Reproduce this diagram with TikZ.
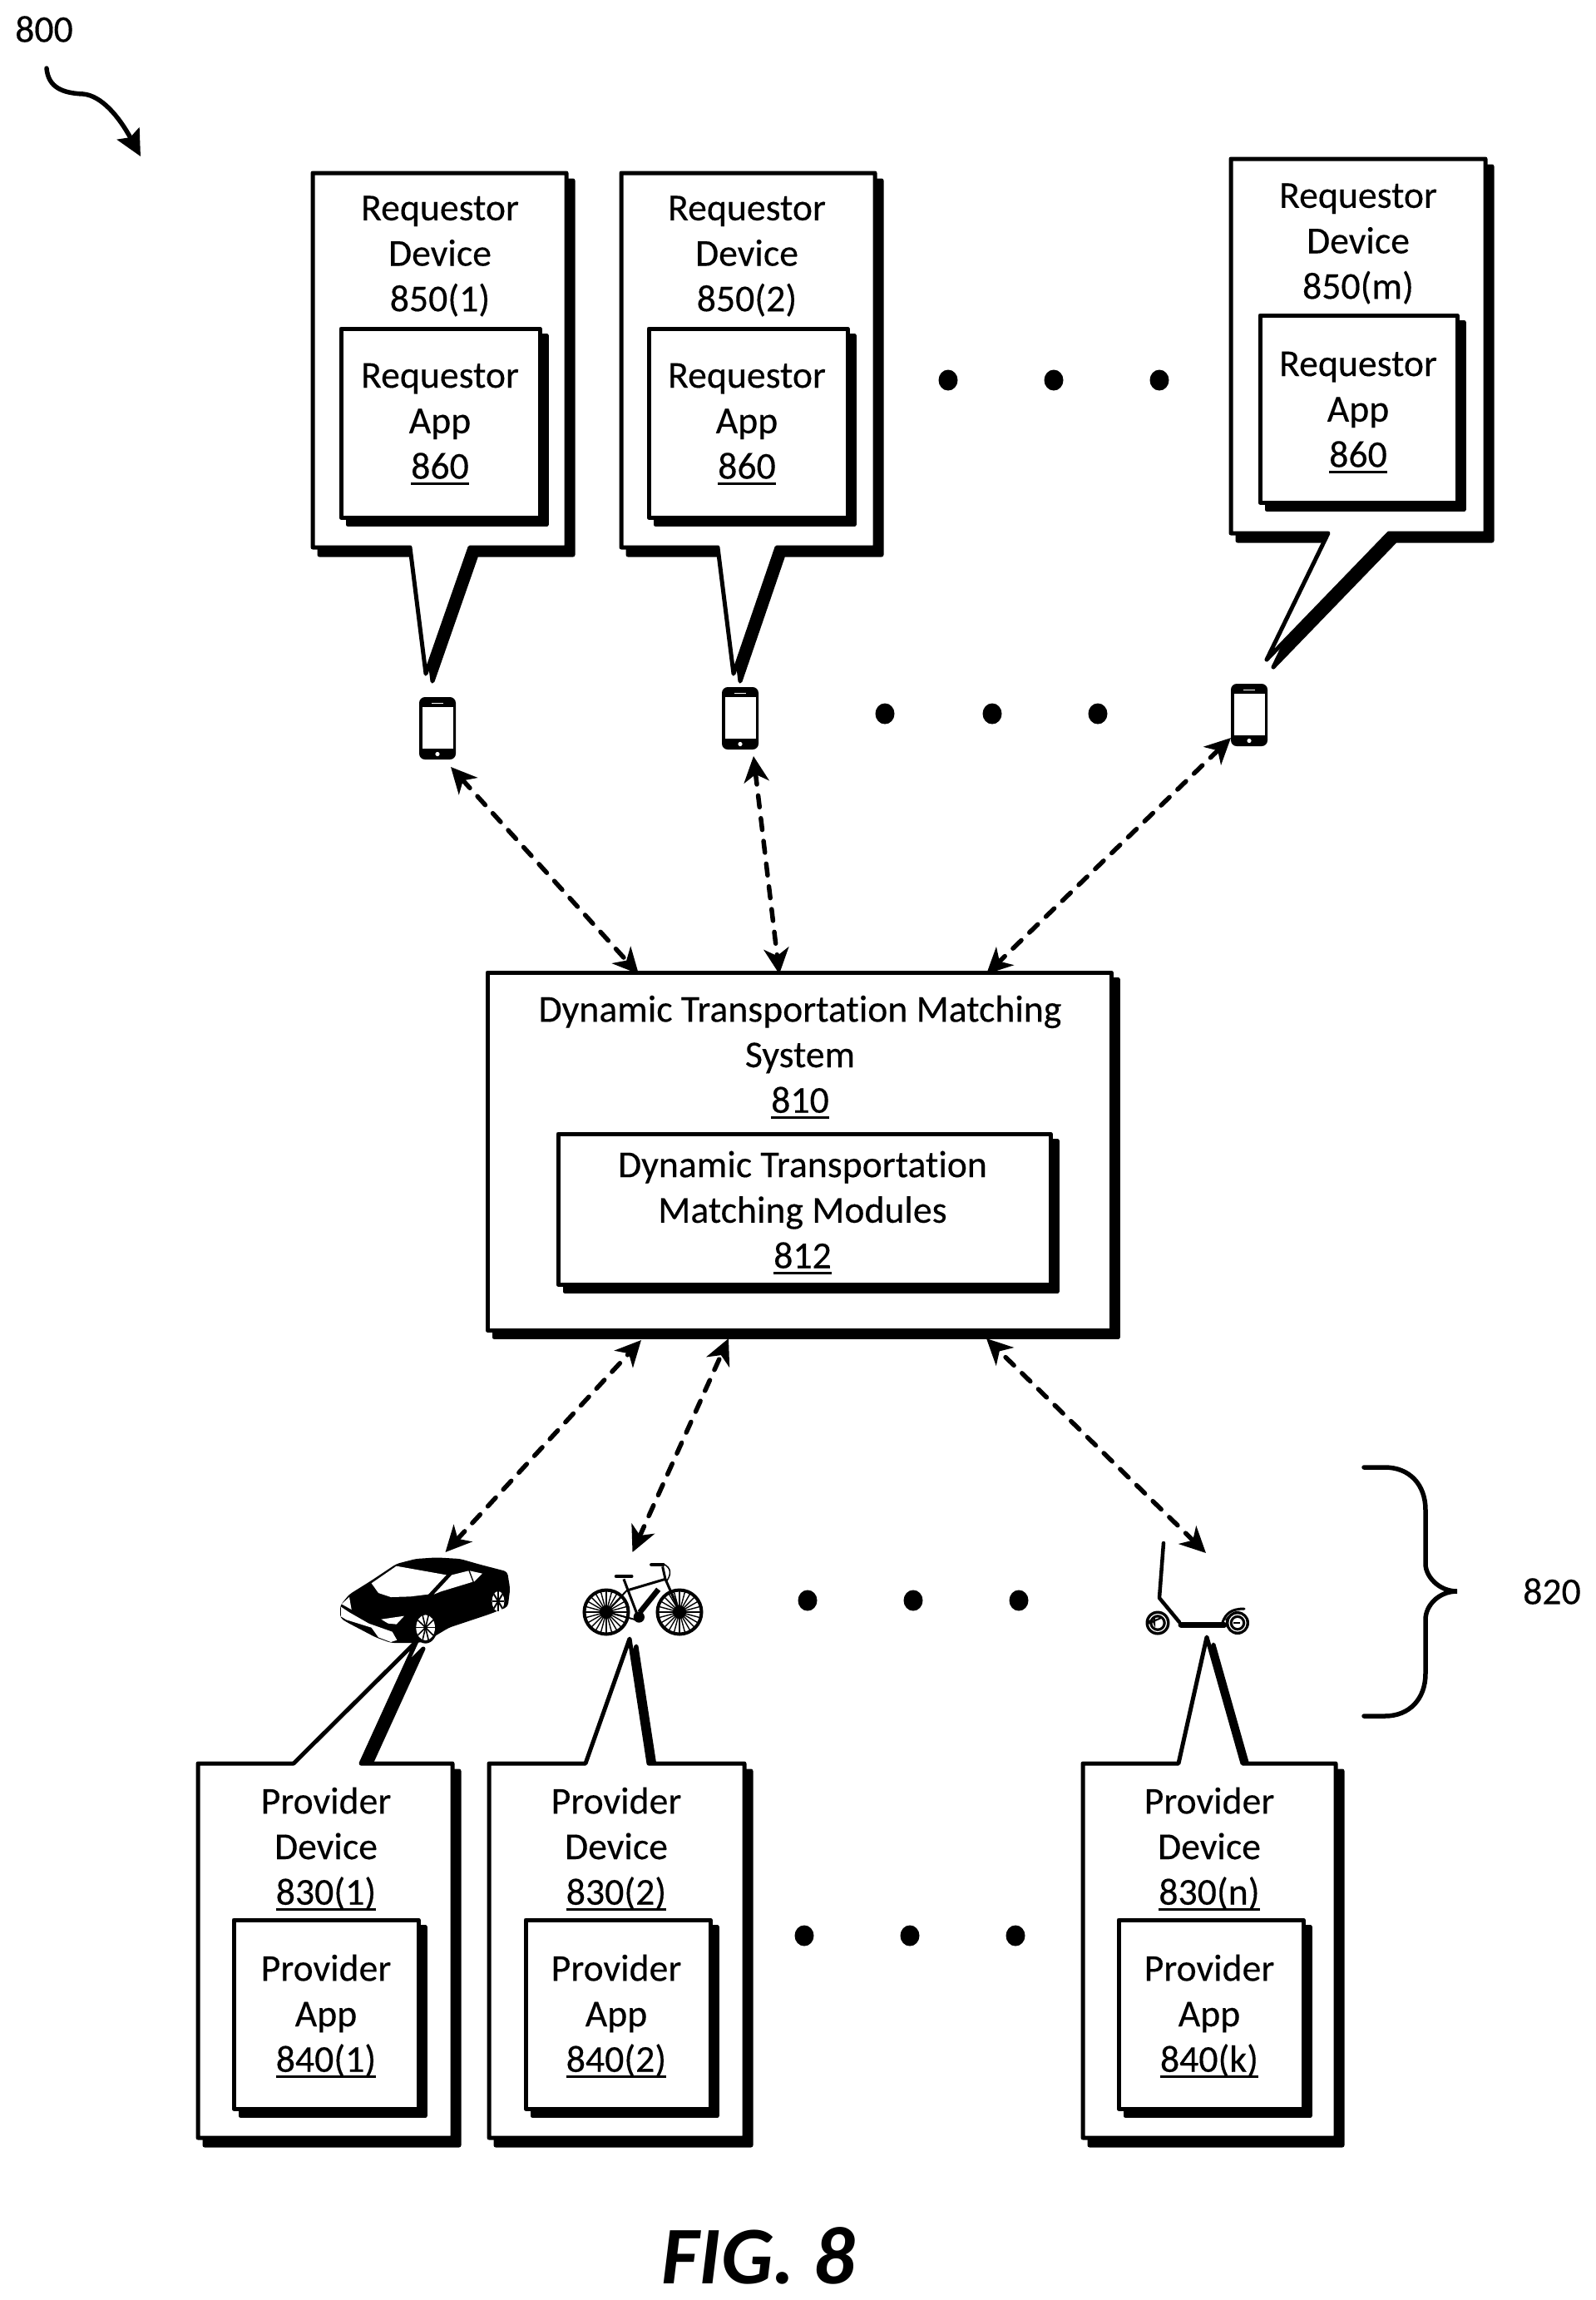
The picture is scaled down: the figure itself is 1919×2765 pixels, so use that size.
\documentclass[tikz,border=0pt]{standalone}
\usepackage{fontspec}
\setmainfont{Carlito}[Ligatures=NoCommon,FakeBold=0.25]
\newfontfamily\figfont{Carlito}[BoldItalicFont={Carlito Bold Italic}]
\usetikzlibrary{arrows.meta,shadows,fit}
\newcommand\unum[1]{\leavevmode\setbox0\hbox{#1}\rlap{\rule[-0.17em]{\wd0}{0.08em}}\box0 }
\tikzset{
  lab/.style={font=\fontsize{13}{15.55}\selectfont,align=center,inner sep=0pt,text=black},
  panel/.style={draw=black,fill=white,line width=0.05cm,inner sep=0pt,line join=round,
     copy shadow={shadow xshift=0.08cm,shadow yshift=-0.085cm,fill=black,draw=black,line width=0.05cm}},
  speech/.style={draw=black,fill=white,line width=0.05cm,line join=round},
  speechshadow/.style={draw=black,fill=black,line width=0.05cm,line join=round},
  link/.style={line width=0.055cm,line cap=round,dash pattern=on 0.14cm off 0.135cm,
     {Stealth[length=0.31cm,width=0.3cm,inset=0.09cm]}-{Stealth[length=0.31cm,width=0.3cm,inset=0.09cm]}},
}
\newcommand\speechdown[8]{%
  \path[speechshadow,shift={(8,9)}] (#1,#2)--(#3,#2)--(#3,#4)--(#6,#4)--(#7,#8)--(#5,#4)--(#1,#4)--cycle;
  \path[speech] (#1,#2)--(#3,#2)--(#3,#4)--(#6,#4)--(#7,#8)--(#5,#4)--(#1,#4)--cycle;}
\newcommand\speechup[8]{%
  \path[speechshadow,shift={(8,9)}] (#1,#2)--(#5,#2)--(#7,#8)--(#6,#2)--(#3,#2)--(#3,#4)--(#1,#4)--cycle;
  \path[speech] (#1,#2)--(#5,#2)--(#7,#8)--(#6,#2)--(#3,#2)--(#3,#4)--(#1,#4)--cycle;}
\newcommand\phone[2]{%
  \begin{scope}[shift={(#1,#2)}]
    \fill[black,rounded corners=0.07cm] (0,0) rectangle (44,75);
    \fill[white] (3.5,12) rectangle (40.5,62);
    \draw[white,line width=0.012cm] (15,7.5)--(29,7.5);
    \fill[white] (22,68.5) circle (2.6);
  \end{scope}}
\newcommand\bdot[2]{\fill[black] (#1,#2) circle [x radius=11.5,y radius=12.5];}
\newcommand\wheel[2]{%
  \foreach \a in {0,15,...,345}{\draw[line width=0.014cm] (#1,#2)--++(\a:27);}
  \draw[line width=0.04cm] (#1,#2) circle (26.5);
  \fill[black] (#1,#2) circle (8);}
\begin{document}
\begin{tikzpicture}[x=0.01cm,y=-0.01cm]
\useasboundingbox (0,0) rectangle (1919,2765);
\node[lab] (n800) at (53,35) {800};
\coordinate (a800s) at (56,82);
\coordinate (a800e) at (169,188);
\draw[line width=0.055cm,line cap=round,-{Stealth[length=0.31cm,width=0.3cm,inset=0.05cm]}]
  (a800s) .. controls (58,105) and (75,112) .. (100,113) .. controls (122,115) and (143,140) .. (a800e);
% requestor devices
\speechdown{376}{208}{681}{658}{493}{565}{512}{810}
\speechdown{747}{208}{1052}{658}{863}{934}{882}{810}
\speechdown{1480}{191}{1786}{641}{1597}{1670}{1523}{793}
\node[panel,fit={(410,395)(649,622)}] (app1) {};
\node[panel,fit={(780,395)(1019,622)}] (app2) {};
\node[panel,fit={(1515,379)(1752,604)}] (app3) {};
\node[lab] (t1) at (529,308) {Requestor\\Device\\850(1)};
\node[lab] (t2) at (898,308) {Requestor\\Device\\850(2)};
\node[lab] (t3) at (1633,293) {Requestor\\Device\\850(m)};
\node[lab] (i1) at (529,510) {Requestor\\App\\\unum{860}};
\node[lab] (i2) at (898,510) {Requestor\\App\\\unum{860}};
\node[lab] (i3) at (1633,496) {Requestor\\App\\\unum{860}};
\foreach \x in {1140,1267,1394}{\bdot{\x}{457}}
\foreach \x in {1064,1193,1320}{\bdot{\x}{858}}
\phone{504}{838}
\phone{868}{826}
\phone{1480}{822}
% matching system
\node[panel,fit={(586,1169)(1336,1599)}] (sys) {};
\node[panel,fit={(671,1363)(1263,1544)}] (mod) {};
\node[lab] (syst) at (962,1271) {Dynamic Transportation Matching\\System\\\unum{810}};
\node[lab] (modt) at (965,1458) {Dynamic Transportation\\Matching Modules\\\unum{812}};
% link ends
\coordinate (p1) at (542,922);   \coordinate (s1) at (768,1171);
\coordinate (p2) at (906,909);   \coordinate (s2) at (937,1171);
\coordinate (p3) at (1480,887);  \coordinate (s3) at (1186,1171);
\coordinate (v1) at (535.5,1866);\coordinate (s4) at (771,1611);
\coordinate (v2) at (760.5,1866);\coordinate (s5) at (876,1609);
\coordinate (v3) at (1450,1867); \coordinate (s6) at (1186,1609);
\draw[link] (p1)--(s1);
\draw[link] (p2)--(s2);
\draw[link] (p3)--(s3);
\draw[link] (v1)--(s4);
\draw[link] (v2)--(s5);
\draw[link] (v3)--(s6);
% dots and brace
\foreach \x in {971,1098,1225}{\bdot{\x}{1924}}
\foreach \x in {967,1094,1221}{\bdot{\x}{2327}}
\coordinate (b0) at (1640,1764);
\coordinate (b1) at (1752,1913);
\coordinate (b2) at (1640,2063);
\draw[line width=0.055cm,line cap=round]
  (b0) -- (1665,1764) .. controls (1695,1764) and (1714,1785) .. (1714,1815)
  -- (1714,1880) .. controls (1714,1895) and (1730,1913) .. (b1)
  .. controls (1730,1913) and (1714,1930) .. (1714,1947) -- (1714,2012)
  .. controls (1714,2042) and (1695,2063) .. (1665,2063) -- (b2);
\node[lab] (n820) at (1866,1913) {820};
% provider devices
\speechup{238}{2120}{544}{2570}{353}{434}{501}{1973}
\speechup{588}{2120}{895}{2570}{704}{780}{757}{1970}
\speechup{1302}{2120}{1606}{2570}{1417}{1494}{1451}{1968}
\node[panel,fit={(281,2308)(503,2535)}] (pa1) {};
\node[panel,fit={(632,2308)(854,2535)}] (pa2) {};
\node[panel,fit={(1345,2308)(1567,2535)}] (pa3) {};
\node[lab] (q1) at (392,2223) {Provider\\Device\\\unum{830(1)}};
\node[lab] (q2) at (741,2223) {Provider\\Device\\\unum{830(2)}};
\node[lab] (q3) at (1454,2223) {Provider\\Device\\\unum{830(n)}};
\node[lab] (r1) at (392,2424) {Provider\\App\\\unum{840(1)}};
\node[lab] (r2) at (741,2424) {Provider\\App\\\unum{840(2)}};
\node[lab] (r3) at (1454,2424) {Provider\\App\\\unum{840(k)}};
% car
\begin{scope}[shift={(400,1860)},xscale=0.3333,yscale=0.3333]
  \fill[black,rounded corners=0.04cm] (27,210)--(60,170)--(140,120)--(230,60)--(300,42)--(375,37)--(460,42)--(530,62)--(630,88)--(640,150)--(632,215)--(570,240)--(420,290)--(370,320)--(340,340)--(300,345)--(210,345)--(155,325)--(50,270)--(27,255)--cycle;
  \fill[white] (140,130)--(230,68)--(410,100)--(345,170)--(280,178)--(210,180)--(165,165)--cycle;
  \fill[white] (365,170)--(430,100)--(490,85)--(505,125)--(390,160)--cycle;
  \fill[white] (495,85)--(540,95)--(510,125)--cycle;
  \fill[white] (32,205)--(60,180)--(68,225)--cycle;
  \fill[white] (30,215)--(60,235)--(130,275)--(215,305)--(232,335)--(210,342)--(165,325)--(140,290)--(60,265)--(50,262)--(30,250)--cycle;
  \fill[white] (175,260)--(258,248)--(230,278)--(200,275)--cycle;
  \fill[black] (335,292) circle [x radius=42,y radius=55];
  \fill[white] (335,290) circle [x radius=34,y radius=46];
  \foreach \a in {0,36,...,324}{\draw[line width=0.016cm] (335,290)--++(\a:34 and 46);}
  \fill[black] (335,290) circle (7);
  \fill[white] (597,195) circle [x radius=22,y radius=36];
  \foreach \a in {0,45,...,315}{\draw[line width=0.02cm] (597,195)--++(\a:22 and 36);}
  \fill[black] (597,195) circle (6);
\end{scope}
% bicycle
\wheel{729}{1938}
\wheel{817}{1938}
\begin{scope}[shift={(690,1870)},xscale=0.3333,yscale=0.3333]
  \draw[line width=0.045cm,line cap=round] (153,75)--(208,75);
  \draw[line width=0.03cm] (180,85)--(232,222) (195,125)--(330,85);
  \draw[line width=0.02cm] (118,203)--(235,235) (118,203)--(192,125);
  \draw[line width=0.03cm] (320,40)--(330,85)--(382,203);
  \draw[line width=0.065cm] (305,122)--(238,205);
  \draw[line width=0.045cm,line cap=round] (280,33)--(322,33);
  \draw[line width=0.015cm] (322,30) .. controls (355,45) and (350,70) .. (335,92);
  \fill[black] (235,222) circle (20);
\end{scope}
% scooter
\draw[line width=0.045cm,line cap=round,line join=round] (1399,1855)--(1394,1921)--(1418,1950);
\draw[line width=0.07cm,line cap=round] (1420,1953)--(1472,1953);
\draw[line width=0.03cm,line cap=round] (1470,1950) .. controls (1474,1940) and (1480,1934) .. (1496,1934);
\draw[line width=0.025cm] (1474,1948) .. controls (1478,1942) and (1484,1938) .. (1490,1938);
\fill[black] (1392,1951) circle (14.5);
\draw[white,line width=0.012cm] (1392,1951) circle (10.5);
\fill[white] (1392,1951) circle (6.5);
\draw[line width=0.02cm] (1388,1945)--(1388,1952) arc (180:0:-4) --(1396,1945);
\fill[black] (1488,1951) circle (14);
\draw[white,line width=0.012cm] (1488,1951) circle (10);
\fill[white] (1488,1951) circle (6);
\draw[line width=0.02cm] (1483,1951)--(1491,1951);
\node[font=\fontsize{28}{32}\selectfont\figfont\bfseries\itshape,inner sep=0pt] (fig) at (912,2712) {FIG. 8};
\end{tikzpicture}
\end{document}
